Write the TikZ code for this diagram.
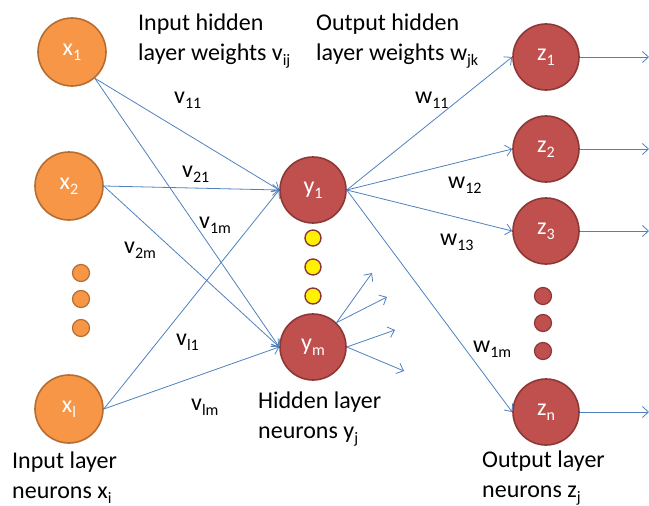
\documentclass[tikz,border=0pt]{standalone}
\usepackage{fontspec}
\setmainfont{Carlito}
\usetikzlibrary{arrows.meta}
\definecolor{infill}{HTML}{F79646}
\definecolor{inborder}{HTML}{B66D31}
\definecolor{redfill}{HTML}{C0504D}
\definecolor{redborder}{HTML}{8C3836}
\definecolor{linkblue}{HTML}{4F81BD}
\newcommand\subs[1]{\raisebox{-0.22em}{\fontsize{16}{16}\selectfont #1}}
\begin{document}
\begin{tikzpicture}[x=1pt,y=-1pt,
  inneur/.style={circle, draw=inborder, fill=infill, line width=1.6pt, minimum size=68pt, inner sep=0pt, text=white, font=\fontsize{24}{24}\selectfont},
  redneur/.style={circle, draw=redborder, fill=redfill, line width=1.6pt, minimum size=66pt, inner sep=0pt, text=white, font=\fontsize{24}{24}\selectfont},
  indot/.style={circle, draw=inborder, fill=infill, line width=1.2pt, minimum size=17pt, inner sep=0pt},
  yeldot/.style={circle, draw=redborder, fill=yellow, line width=1.4pt, minimum size=16pt, inner sep=0pt},
  reddot/.style={circle, draw=redborder, fill=redfill, line width=1.2pt, minimum size=17pt, inner sep=0pt},
  link/.style={draw=linkblue, line width=0.8pt, -{Straight Barb[length=6pt,width=11pt]}},
  wlab/.style={anchor=base west, inner sep=0pt, font=\fontsize{24}{24}\selectfont},
  blocklab/.style={anchor=base west, inner sep=0pt, align=left, font=\fontsize{24}{30}\selectfont},
]
\useasboundingbox (0,0) rectangle (649,506);
% input layer
\node[inneur] (x1) at (72,52) {x\subs{1}};
\node[inneur] (x2) at (69,186) {x\subs{2}};
\node[inneur] (xl) at (69,409) {x\subs{l}};
\node[indot] (d1) at (81,273) {};
\node[indot] (d2) at (81,299) {};
\node[indot] (d3) at (81,328) {};
% hidden layer
\node[redneur] (y1) at (313,190) {y\subs{1}};
\node[redneur] (ym) at (313,347) {y\subs{m}};
\node[yeldot] (e1) at (313,238) {};
\node[yeldot] (e2) at (313,267) {};
\node[yeldot] (e3) at (313,296) {};
% output layer
\node[redneur] (z1) at (546,57) {z\subs{1}};
\node[redneur] (z2) at (546,149) {z\subs{2}};
\node[redneur] (z3) at (546,231) {z\subs{3}};
\node[redneur] (zn) at (546,412) {z\subs{n}};
\node[reddot] (r1) at (543,296) {};
\node[reddot] (r2) at (543,323) {};
\node[reddot] (r3) at (543,351) {};
% free ends
\coordinate (o1) at (649,57);
\coordinate (o2) at (649,149);
\coordinate (o3) at (649,231);
\coordinate (on) at (649,412);
\coordinate (m1) at (372,273);
\coordinate (m2) at (387,297);
\coordinate (m3) at (395,330);
\coordinate (m4) at (404,371);
% input -> hidden
\draw[link] (x1.-49) -- (y1.west);
\draw[link] (x1.-49) -- (ym.west);
\draw[link] (x2.east) -- (y1.west);
\draw[link] (x2.east) -- (ym.west);
\draw[link] (xl.east) -- (y1.west);
\draw[link] (xl.east) -- (ym.west);
% hidden -> output
\draw[link] (y1.east) -- (z1.west);
\draw[link] (y1.east) -- (z2.west);
\draw[link] (y1.east) -- (z3.west);
\draw[link] (y1.east) -- (zn.west);
\draw[link] (ym.46) -- (m1);
\draw[link] (ym.46) -- (m2);
\draw[link] (ym.east) -- (m3);
\draw[link] (ym.east) -- (m4);
% outputs
\draw[link] (z1.east) -- (o1);
\draw[link] (z2.east) -- (o2);
\draw[link] (z3.east) -- (o3);
\draw[link] (zn.east) -- (on);
% weight labels
\node[wlab] (lv11) at (174,103) {v\subs{11}};
\node[wlab] (lv21) at (182,177) {v\subs{21}};
\node[wlab] (lv1m) at (199,228) {v\subs{1m}};
\node[wlab] (lv2m) at (124,253) {v\subs{2m}};
\node[wlab] (lvl1) at (176,345) {v\subs{l1}};
\node[wlab] (lvlm) at (191,410) {v\subs{lm}};
\node[wlab] (lw11) at (415,103) {w\subs{11}};
\node[wlab] (lw12) at (448,188) {w\subs{12}};
\node[wlab] (lw13) at (440,245) {w\subs{13}};
\node[wlab] (lw1m) at (473,352) {w\subs{1m}};
% block labels (anchored at the baseline of their last line)
\node[blocklab] (tih) at (138,60) {Input hidden\\layer weights v\subs{ij}};
\node[blocklab] (toh) at (316,60) {Output hidden\\layer weights w\subs{jk}};
\node[blocklab] (thl) at (258,438) {Hidden layer\\neurons y\subs{j}};
\node[blocklab] (til) at (12,498) {Input layer\\neurons x\subs{i}};
\node[blocklab] (tol) at (482,497) {Output layer\\neurons z\subs{j}};
\end{tikzpicture}
\end{document}
